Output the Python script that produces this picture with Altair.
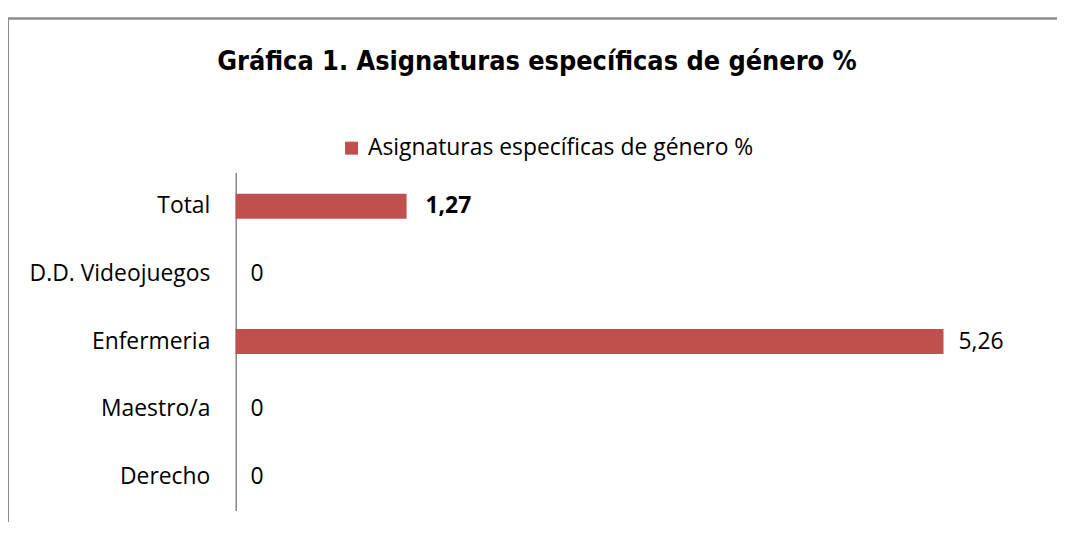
import altair as alt
import pandas as pd

categories = ["Total", "D.D. Videojuegos", "Enfermeria", "Maestro/a", "Derecho"]
values = [1.27, 0, 5.26, 0, 0]
labels = ["1,27", "0", "5,26", "0", "0"]
series_name = "Asignaturas específicas de género %"

df = pd.DataFrame({"cat": categories, "val": values, "lab": labels, "serie": series_name})

FONT = "Open Sans"
FS = 23
RED = "#C0504D"

y_enc = alt.Y("cat:N", sort=categories, title=None,
              scale=alt.Scale(paddingInner=0.63, paddingOuter=0.315),
              axis=alt.Axis(labelFontSize=FS, labelFont=FONT, labelColor="#000000",
                            ticks=False, labelPadding=26, domainColor="#868686",
                            domainWidth=1.5, labelLimit=400))
x_enc = alt.X("val:Q", scale=alt.Scale(domain=[0, 6], nice=False), axis=None)

border = alt.Chart(df).mark_rect(fill=None, stroke="#8c8c8c", strokeWidth=1.5).encode(
    x=alt.value(-229), x2=alt.value(840), y=alt.value(-155), y2=alt.value(400))

bars = alt.Chart(df).mark_bar(color=RED).encode(
    x=x_enc, y=y_enc,
    color=alt.Color("serie:N", scale=alt.Scale(range=[RED]), title=None,
                    legend=alt.Legend(orient="none", legendX=105, legendY=-36,
                                      symbolType="square", symbolSize=170,
                                      symbolStrokeWidth=0, labelFont=FONT,
                                      labelFontSize=FS, labelColor="#000000",
                                      labelLimit=600, symbolOffset=0, labelOffset=5)))

txt_norm = alt.Chart(df).transform_filter(alt.datum.cat != "Total").mark_text(
    align="left", dx=15, font=FONT, fontSize=FS, color="#000000").encode(
    x=x_enc, y=alt.Y("cat:N", sort=categories), text="lab:N")

txt_bold = alt.Chart(df).transform_filter(alt.datum.cat == "Total").mark_text(
    align="left", dx=19, font=FONT, fontSize=FS, fontWeight="bold", color="#000000").encode(
    x=x_enc, y=alt.Y("cat:N", sort=categories), text="lab:N")

chart = alt.layer(border, bars, txt_norm, txt_bold).properties(
    width=812, height=340,
    title=alt.TitleParams("Gráfica 1. Asignaturas específicas de género %",
                          font="DejaVu Sans Condensed", fontSize=27, fontWeight="bold",
                          color="#000000", anchor="middle", dx=-103, offset=-80,
                          baseline="alphabetic"),
    padding={"left": 229, "top": 164, "right": 14, "bottom": 10},
    autosize=alt.AutoSizeParams(type="none"),
).configure_view(stroke=None).configure_axis(grid=False)

chart.save("out.html", embed_options={"renderer": "svg", "actions": False})
